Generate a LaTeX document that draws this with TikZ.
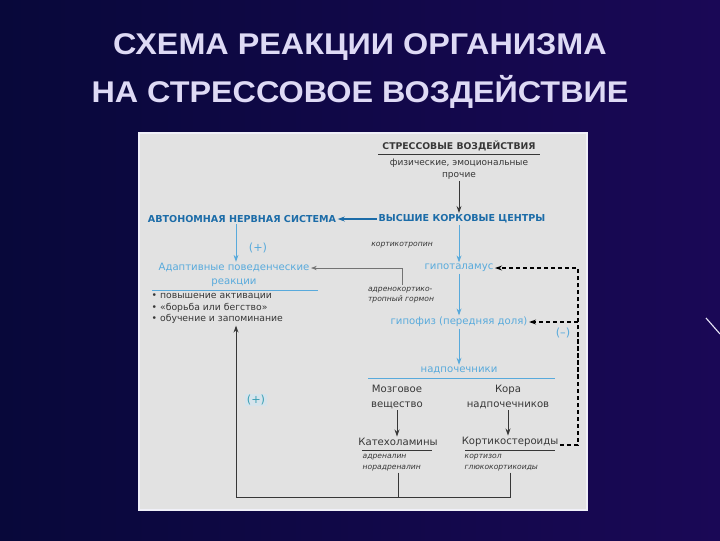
\documentclass[tikz,border=0pt]{standalone}
\usepackage{fontspec}
\setmainfont{DejaVu Sans}
\newfontfamily\titlefont[FakeStretch=1.08]{Liberation Sans}
\usetikzlibrary{arrows.meta,positioning,calc}
\definecolor{bgleft}{RGB}{8,8,58}
\definecolor{bgright}{RGB}{26,8,86}
\definecolor{titlecol}{RGB}{222,218,245}
\definecolor{panelgray}{RGB}{226,226,226}
\definecolor{paneledge}{RGB}{240,240,248}
\definecolor{headblue}{RGB}{28,108,168}
\definecolor{lightblue}{RGB}{88,170,220}
\definecolor{darktext}{RGB}{55,55,55}
\definecolor{signteal}{RGB}{60,160,180}
\definecolor{signbg}{RGB}{214,228,236}

\begin{document}
\begin{tikzpicture}[x=0.025cm, y=-0.025cm,
    title/.style   = {font=\titlefont\fontsize{21.3}{24}\selectfont\bfseries, text=titlecol},
    hdark/.style   = {font=\fontsize{6.6}{8}\selectfont\bfseries, text=darktext, inner sep=1pt},
    hblue/.style   = {font=\fontsize{6.8}{8}\selectfont\bfseries, text=headblue, inner sep=1pt},
    lblue/.style   = {font=\fontsize{7.2}{9.5}\selectfont, text=lightblue, inner sep=1pt, align=center},
    plain/.style   = {font=\fontsize{7.2}{10}\selectfont, text=darktext, inner sep=1pt, align=center},
    bullets/.style = {font=\fontsize{6.6}{8.2}\selectfont, text=darktext, inner sep=1pt, align=left},
    smallit/.style = {font=\fontsize{5.4}{7.4}\selectfont\itshape, text=darktext, inner sep=1pt, align=left},
    sign/.style    = {font=\fontsize{8}{9}\selectfont, text=lightblue, inner sep=1pt},
    rule/.style    = {draw=darktext, line width=0.5pt},
    bluerule/.style= {draw=lightblue, line width=0.5pt},
    barr/.style    = {-{Stealth[length=5pt,width=3.5pt]}, draw=lightblue, line width=0.6pt},
    hbarr/.style   = {-{Stealth[length=5pt,width=3.5pt]}, draw=headblue, line width=1pt},
    karr/.style    = {-{Stealth[length=5pt,width=3.5pt]}, draw=darktext, line width=0.7pt},
    kline/.style   = {draw=darktext, line width=0.7pt},
    garr/.style    = {-{Stealth[length=4pt,width=3pt]}, draw=darktext!70, line width=0.4pt},
    darr/.style    = {-{Stealth[length=5pt,width=3.5pt]}, draw=black, line width=0.8pt, dash pattern=on 3pt off 2pt}
  ]
    % background and panel
    \fill[left color=bgleft, right color=bgright] (0,0) rectangle (720,540);
    \useasboundingbox (0,0) rectangle (720,540);
    \draw[titlecol!70, line width=0.8pt] (706,318) -- (720,334);
    \fill[panelgray, draw=paneledge, line width=0.8pt] (139,133) rectangle (587,510);

    \node[title] (t1) at (360,47) {СХЕМА РЕАКЦИИ ОРГАНИЗМА};
    \node[title] (t2) at (360,92) {НА СТРЕССОВОЕ ВОЗДЕЙСТВИЕ};

    % top of the chain
    \node[hdark] (stress) at (459,146) {СТРЕССОВЫЕ ВОЗДЕЙСТВИЯ};
    \draw[rule] (378,154) -- (540,154);
    \node[plain, font=\fontsize{6.4}{8.6}\selectfont] (kinds) at (459,169) {физические, эмоциональные\\прочие};
    \node[hblue] (cortex) at (462,219) {ВЫСШИЕ КОРКОВЫЕ ЦЕНТРЫ};
    \node[hblue] (ans) at (242,219) {АВТОНОМНАЯ НЕРВНАЯ СИСТЕМА};
    \draw[karr] (kinds.south -| 459,0) -- (cortex.north -| 459,0);
    \draw[hbarr] (cortex) -- (ans);

    % left branch
    \node[lblue] (adapt) at (234,275) {Адаптивные поведенческие\\реакции};
    \node[sign] (plus1) at (258,248) {(+)};
    \draw[barr] (ans.south -| 236,0) -- (adapt.north -| 236,0);
    \draw[bluerule] (152,290) -- (318,290);
    \node[bullets, anchor=north west] (bul) at (150,292)
      {• повышение активации\\• «борьба или бегство»\\• обучение и запоминание};

    % hormonal axis
    \node[lblue] (hypo) at (459,268) {гипоталамус};
    \node[lblue] (pit) at (459,322) {гипофиз (передняя доля)};
    \node[lblue] (adr) at (459,370) {надпочечники};
    \draw[barr] (cortex.south -| 459,0) -- (hypo);
    \draw[barr] (hypo) -- (pit);
    \draw[barr] (pit) -- (adr);
    \draw[bluerule] (368,378) -- (555,378);
    \node[smallit] (ctr) at (402,245) {кортикотропин};
    \node[smallit] (acth) at (401,295) {адренокортико-\\тропный гормон};
    \coordinate (bend) at (402,268);
    \draw[garr] (acth.north -| bend) -- (bend) -- (adapt.east |- bend);
    \node[sign] (minus) at (563,333) {(–)};

    % adrenal parts
    \node[plain] (med) at (397,397) {Мозговое\\вещество};
    \node[plain] (crx) at (508,397) {Кора\\надпочечников};
    \node[plain] (cat) at (398,442) {Катехоламины};
    \node[plain] (cort) at (510,442) {Кортикостероиды};
    \draw[karr] (med.south) -- (med.south |- cat.north);
    \draw[karr] (crx.south) -- (crx.south |- cort.north);
    \draw[rule] (362,450) -- (432,450);
    \draw[rule] (465,450) -- (555,450);
    \node[smallit, anchor=north west] (catlist) at (361,453) {адреналин\\норадреналин};
    \node[smallit, anchor=north west] (cortlist) at (463,453) {кортизол\\глюкокортикоиды};

    % feedback loops
    \coordinate (join) at (236,497);
    \draw[kline] (catlist.south -| cat) -- (cat |- join);
    \draw[karr] (cortlist.south -| cort) -- (cort |- join) -- (join) -- (join |- bul.south);
    \node[sign, fill=signbg, text=signteal] (plus2) at (256,400) {(+)};
    \coordinate (fbr) at (578,445);
    \draw[darr] (cort.east |- fbr) -- (fbr) -- (fbr |- hypo) -- (hypo.east);
    \draw[darr] (fbr |- pit) -- (pit.east);
\end{tikzpicture}
\end{document}
